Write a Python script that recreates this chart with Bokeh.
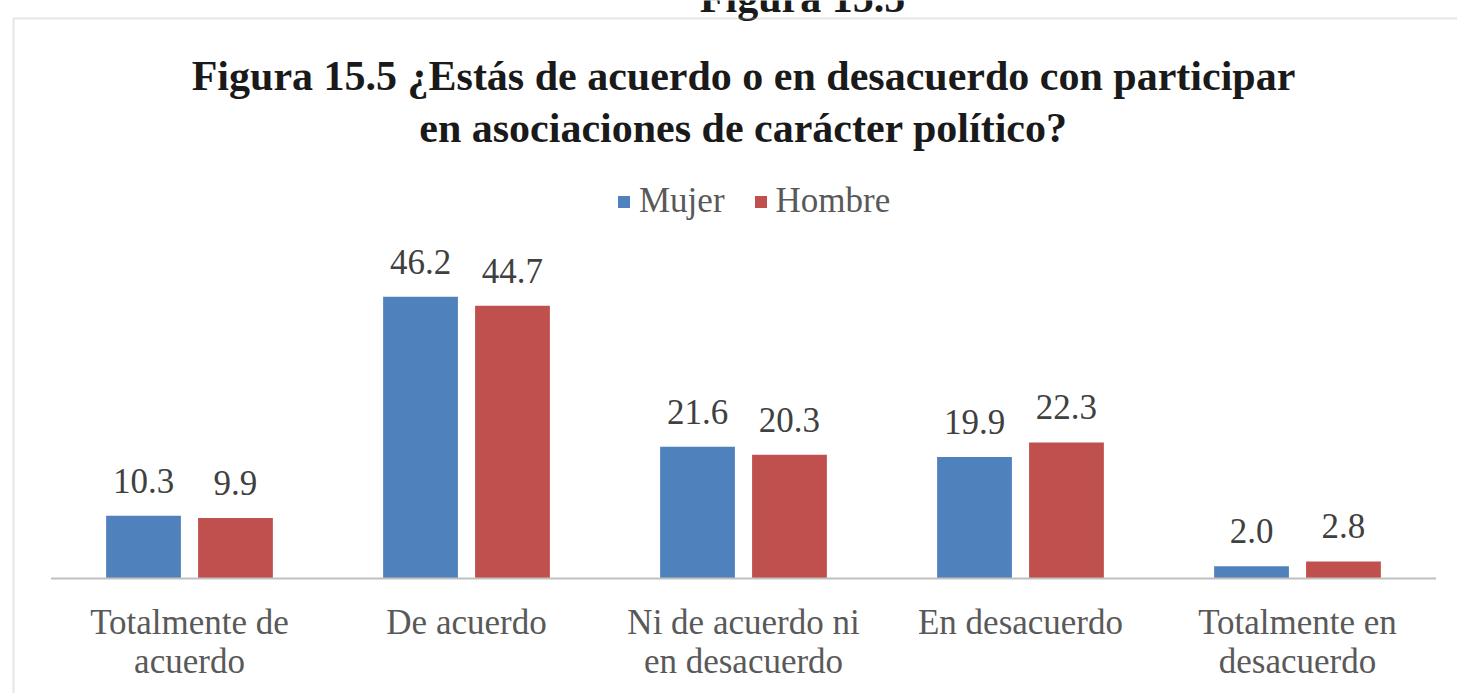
from bokeh.plotting import figure
from bokeh.models import Range1d, ColumnDataSource, Legend, LegendItem, BoxAnnotation
from bokeh.transform import dodge
from bokeh.core.properties import value
from bokeh.embed import file_html
from bokeh.resources import INLINE

# ---------------- data ----------------
header = "Figura 15.5"
title_lines = ["Figura 15.5 ¿Estás de acuerdo o en desacuerdo con participar",
               "en asociaciones de carácter político?"]
categories = ["Totalmente de acuerdo", "De acuerdo", "Ni de acuerdo ni en desacuerdo",
              "En desacuerdo", "Totalmente en desacuerdo"]
label_line1 = ["Totalmente de", "De acuerdo", "Ni de acuerdo ni", "En desacuerdo", "Totalmente en"]
label_line2 = ["acuerdo", "", "en desacuerdo", "", "desacuerdo"]
series = ["Mujer", "Hombre"]
mujer = [10.3, 46.2, 21.6, 19.9, 2.0]
hombre = [9.9, 44.7, 20.3, 22.3, 2.8]

# ---------------- geometry ----------------
W, H = 1457, 693
PX0, STEP = 189.0, 277.0      # first category centre / category spacing (px)
BASE, PPU = 578.0, 6.1        # baseline (px) / pixels per unit

def xpx(px):
    return (px - PX0) / STEP

def ypx(py):
    return (BASE - py) / PPU

BLUE, RED = "#4F81BD", "#C0504D"
FONT_NAME = "Liberation Serif"
FONT = value(FONT_NAME)
OFF, BW = 0.166, 0.27

xs = list(range(len(categories)))
src = ColumnDataSource(dict(
    x=xs, mujer=mujer, hombre=hombre,
    ml=[f"{v:.1f}" for v in mujer], hl=[f"{v:.1f}" for v in hombre],
    l1=label_line1, l2=label_line2,
))

p = figure(width=W, height=H, x_range=Range1d(xpx(0), xpx(W)), y_range=Range1d(ypx(H), ypx(0)),
           output_backend="svg", toolbar_location=None, x_axis_location=None, y_axis_location=None,
           min_border=0, min_border_left=0, min_border_right=0, min_border_top=0, min_border_bottom=0)
p.grid.visible = False
p.outline_line_color = None
p.background_fill_color = "white"
p.border_fill_color = "white"

# outer frame of the chart
p.add_layout(BoxAnnotation(left=xpx(13), right=xpx(W + 30), top=ypx(18), bottom=ypx(H + 30),
                           fill_alpha=0, line_color="#A9A9A9", line_width=2))

rb = p.vbar(x=dodge("x", -OFF, range=p.x_range), top="mujer", width=BW, bottom=0, source=src,
            fill_color=BLUE, line_color=None)
rr = p.vbar(x=dodge("x", OFF, range=p.x_range), top="hombre", width=BW, bottom=0, source=src,
            fill_color=RED, line_color=None)

# baseline (category axis line)
p.segment(x0=[-0.5], x1=[len(categories) - 0.5], y0=[0], y1=[0], line_color="#C0C0C0", line_width=2)

# value labels
common = dict(text_font=FONT, text_font_size="35px", text_color="#404040",
              text_align="center", text_baseline="middle", y_offset=-35, source=src)
p.text(x=dodge("x", -OFF, range=p.x_range), y="mujer", text="ml", **common)
p.text(x=dodge("x", OFF, range=p.x_range), y="hombre", text="hl", **common)

# category labels
cl = dict(text_font=FONT, text_font_size="35px", text_color="#595959",
          text_align="center", text_baseline="middle", source=src)
p.text(x="x", y=ypx(622), text="l1", **cl)
p.text(x="x", y=ypx(661), text="l2", **cl)

# titles
mid = (len(categories) - 1) / 2
tl = dict(text_font=FONT, text_font_size="42px", text_font_style="bold", text_color="#1A1A1A",
          text_align="center", text_baseline="middle")
p.text(x=[mid], y=[ypx(75)], text=[title_lines[0]], **tl)
p.text(x=[mid], y=[ypx(127)], text=[title_lines[1]], **tl)
p.text(x=[xpx(802)], y=[ypx(-3)], text=[header], **tl)

legend = Legend(items=[LegendItem(label=series[0], renderers=[rb]),
                       LegendItem(label=series[1], renderers=[rr])],
                orientation="horizontal", location=(616, 472),
                glyph_width=15, glyph_height=15, label_standoff=8, spacing=28,
                padding=0, margin=0, border_line_color=None, background_fill_alpha=0,
                label_text_font=FONT_NAME, label_text_font_size="35px", label_text_color="#595959")
p.add_layout(legend)

open("out.html", "w").write(file_html(p, INLINE))
